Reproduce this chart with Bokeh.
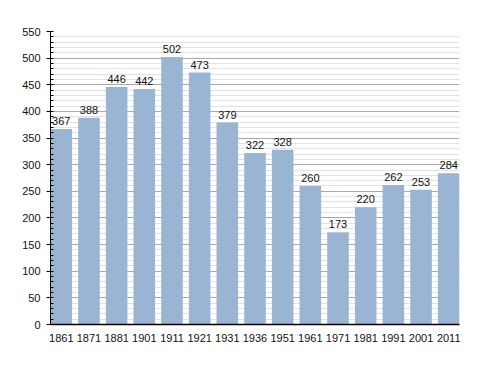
from bokeh.plotting import figure
from bokeh.models import ColumnDataSource, Range1d, FixedTicker, LabelSet
from bokeh.core.properties import value
from bokeh.embed import file_html
from bokeh.resources import INLINE

years = ["1861", "1871", "1881", "1901", "1911", "1921", "1931", "1936",
         "1951", "1961", "1971", "1981", "1991", "2001", "2011"]
population = [367, 388, 446, 442, 502, 473, 379, 322, 328, 260, 173, 220, 262, 253, 284]
y_ticks = [0, 50, 100, 150, 200, 250, 300, 350, 400, 450, 500, 550]

xs = list(range(len(years)))
src = ColumnDataSource(dict(x=xs, top=population, label=[str(v) for v in population]))

bw = 0.78
p = figure(width=472, height=357, output_backend="svg", toolbar_location=None,
           x_range=Range1d(-bw / 2, len(years) - 1 + bw / 2), y_range=Range1d(0, 550),
           min_border_left=50, min_border_right=13, min_border_top=31, min_border_bottom=33)
p.outline_line_color = None
p.background_fill_color = "white"

p.vbar(x="x", top="top", width=bw, source=src, fill_color="#9ab4d3", line_color=None)

labels = LabelSet(x="x", y="top", text="label", source=src, text_align="center",
                  text_baseline="bottom", y_offset=4, text_font_size="11px",
                  text_font=value("Liberation Sans"), text_color="#111111")
p.add_layout(labels)

# x axis
p.xaxis.ticker = FixedTicker(ticks=xs)
p.xaxis.major_label_overrides = {i: y for i, y in enumerate(years)}
p.xaxis.major_tick_line_color = None
p.xaxis.minor_tick_line_color = None
p.xaxis.axis_line_color = "black"
p.xaxis.axis_line_width = 1.5
p.xaxis.major_label_standoff = 3
p.xaxis.major_label_text_font = "Liberation Sans"
p.xaxis.major_label_text_font_size = "11px"
p.xaxis.major_label_text_color = "#111111"
p.xgrid.grid_line_color = None

# y axis
p.yaxis.ticker = FixedTicker(ticks=y_ticks, minor_ticks=list(range(0, 551, 10)))
p.yaxis.axis_line_color = "black"
p.yaxis.major_tick_out = 4
p.yaxis.major_tick_in = 0
p.yaxis.minor_tick_in = 3
p.yaxis.minor_tick_out = 0
p.yaxis.major_tick_line_color = "black"
p.yaxis.minor_tick_line_color = "black"
p.yaxis.major_label_standoff = 6
p.yaxis.major_label_text_font = "Liberation Sans"
p.yaxis.major_label_text_font_size = "11px"
p.yaxis.major_label_text_color = "#111111"
p.ygrid.grid_line_color = "#a8a8a8"
p.ygrid.minor_grid_line_color = "#e2e2e2"

open("out.html", "w").write(file_html(p, INLINE))
